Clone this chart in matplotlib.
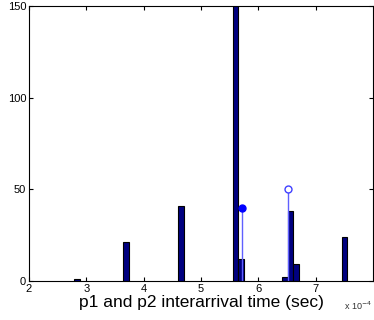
import matplotlib
matplotlib.use("Agg")
import matplotlib.pyplot as plt

# histogram bins (x in units of 1e-4 sec)
bin_centers = [2.84, 3.69, 4.65, 5.60, 5.70, 6.46, 6.56, 6.65, 7.50]
bin_counts = [1, 21, 41, 160, 12, 2, 38, 9, 24]
bin_width = 0.1

# stem markers
p1_x, p1_y = [5.72], [40]
p2_x, p2_y = [6.51], [50]

plt.rcParams['font.family'] = ['Liberation Sans', 'DejaVu Sans']

fig = plt.figure(figsize=(3.74, 3.2), dpi=100)
ax = fig.add_axes([0.0775, 0.122, 0.92, 0.859])

ax.bar(bin_centers, bin_counts, width=bin_width, color='#000080',
       edgecolor='black', linewidth=0.8, zorder=2)

ml, sl, bl = ax.stem(p1_x, p1_y, linefmt='-', markerfmt='o', basefmt=' ')
plt.setp(sl, color='#6060ff', linewidth=1)
plt.setp(ml, color='#0000ff', markersize=5, zorder=3)
ml, sl, bl = ax.stem(p2_x, p2_y, linefmt='-', markerfmt='o', basefmt=' ')
plt.setp(sl, color='#6060ff', linewidth=1)
plt.setp(ml, markerfacecolor='white', markeredgecolor='#4040ff',
         markersize=5, zorder=3)

ax.set_xlim(2, 8)
ax.set_ylim(0, 150)
ax.set_xticks([2, 3, 4, 5, 6, 7])
ax.set_yticks([0, 50, 100, 150])
ax.tick_params(direction='in', length=3, labelsize=8, top=True, right=True,
               pad=2)
for s in ax.spines.values():
    s.set_linewidth(0.8)

ax.set_xlabel('p1 and p2 interarrival time (sec)', fontsize=12.5, labelpad=1)
fig.text(0.92, 0.03, r'x 10$^{-4}$', fontsize=6.5, color='#333333')

fig.savefig('out.png', dpi=100)
